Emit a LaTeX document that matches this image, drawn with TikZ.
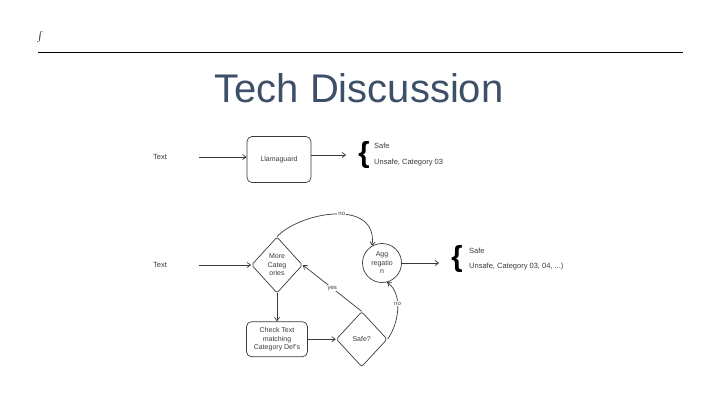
\documentclass[tikz,border=0pt]{standalone}
\usepackage{fontspec}
\setmainfont{Liberation Sans}
\usetikzlibrary{positioning, shapes.geometric, arrows.meta, calc}
\definecolor{titleblue}{HTML}{3D5068}
\definecolor{sketch}{HTML}{3A3A3A}

\begin{document}
\begin{tikzpicture}[
    x=1pt, y=-1pt,
    node distance=28pt and 28pt,
    base/.style={draw=sketch, line width=0.7pt, align=center, text=sketch, inner sep=1pt, font=\fontsize{7}{8.5}\selectfont},
    box/.style={base, rectangle, rounded corners=5pt},
    decision/.style={base, diamond, rounded corners=2pt, inner sep=0pt},
    agg_style/.style={base, circle, minimum size=39pt},
    plain/.style={text=sketch, inner sep=0pt, font=\fontsize{7.5}{8}\selectfont},
    curly/.style={inner sep=0pt, font=\fontsize{29}{29}\selectfont\bfseries},
    lbl/.style={fill=white, text=sketch, inner sep=1pt, font=\fontsize{6}{6}\selectfont},
    arrow/.style={-{Straight Barb[length=3.5pt, width=5pt]}, draw=sketch, line width=0.7pt}
]
    \useasboundingbox (0,0) rectangle (720,405);

    % --- HEADER ---
    \node (logo) at (40,37) {\fontsize{13}{13}\selectfont$\int$};
    \coordinate (rule_l) at (38,52);
    \coordinate (rule_r) at (683,52);
    \draw [line width=0.8pt] (rule_l) -- (rule_r);
    \node (title) [anchor=base, text=titleblue, font=\fontsize{40}{40}\selectfont] at (359,102) {Tech Discussion};

    % --- SINGLE CLASSIFIER ---
    \node (llama) [box, minimum width=64pt, minimum height=46pt] at (279,159.5) {Llamaguard};
    \node (text_a) [plain] at (160,157) {Text};
    \node (brace_a) [curly] at (364,155) {\{};
    \node (safe_a) [plain, anchor=west] at (374,146) {Safe};
    \node (unsafe_a) [plain, anchor=west] at (374,163) {Unsafe, Category 03};

    \draw [arrow, shorten <=32pt] (text_a.east) -- (llama.west |- text_a.east);
    \draw [arrow, shorten >=12pt] (llama.east |- brace_a.west) -- (brace_a.west);

    % --- PER-CATEGORY LOOP ---
    \node (more) [decision, minimum width=51pt, minimum height=56pt] at (277,265) {More\\Categ\\ories};
    \node (text_b) [plain] at (160,265) {Text};
    \node (check) [box, minimum width=61pt, minimum height=35pt, below=28pt of more] {Check Text\\matching\\Category Def's};
    \node (safe_q) [decision, minimum width=51pt, minimum height=55pt, right=28pt of check] {Safe?};
    \node (agg) [agg_style] at (382,263) {Agg\\regatio\\n};
    \node (brace_b) [curly] at (457,259) {\{};
    \node (safe_b) [plain, anchor=west] at (469,251) {Safe};
    \node (unsafe_b) [plain, anchor=west] at (469,267) {Unsafe, Category 03, 04, ...)};

    \draw [arrow, shorten <=32pt] (text_b.east) -- (more.west);
    \draw [arrow] (more.south) -- (check.north);
    \draw [arrow] (check.east) -- (safe_q.west);
    \draw [arrow] (safe_q.north) -- (more.east)
        node[lbl, midway] {yes};
    \draw [arrow] (more.north) .. controls (300,212) and (378,198) .. (agg.120)
        node[lbl, pos=0.55] {no};
    \draw [arrow] (safe_q.east) .. controls (398,325) and (404,295) .. (agg.-75)
        node[lbl, pos=0.6] {no};
    \draw [arrow, shorten >=12pt] (agg.east) -- (brace_b.west |- agg.east);

\end{tikzpicture}
\end{document}
